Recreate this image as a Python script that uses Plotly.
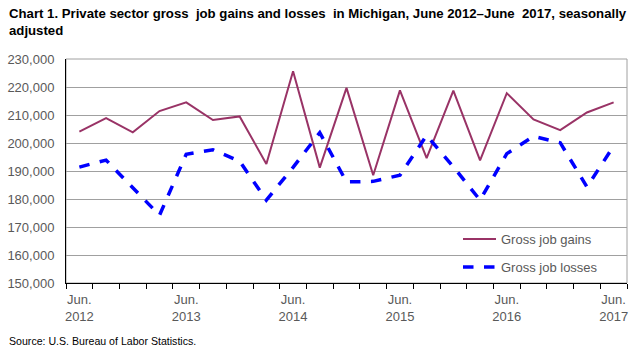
import plotly.graph_objects as go

quarters = list(range(21))
tick_pos = [0, 4, 8, 12, 16, 20]
tick_labels = ["Jun.<br>2012", "Jun.<br>2013", "Jun.<br>2014", "Jun.<br>2015", "Jun.<br>2016", "Jun.<br>2017"]

gains = [204100, 208900, 203800, 211400, 214500, 208200, 209500, 192500, 225600, 191200,
         219700, 188500, 218800, 194600, 218700, 193800, 217800, 208400, 204600, 210900, 214500]
losses = [191400, 193900, 184000, 174200, 196000, 197600, 193500, 179600, 191300, 203700,
          186100, 186300, 188500, 202700, 191500, 179600, 196200, 202400, 200100, 184300, 198900]

L, R, T, B = 66, 15, 58.5, 67
W, H = 642, 350
pw, ph = W - L - R, H - T - B


def px_x(x):
    return (x - L) / pw


def px_y(y):
    return (T + ph - y) / ph


fig = go.Figure()
fig.add_trace(go.Scatter(x=quarters, y=gains, mode="lines", name="Gross job gains",
                         line=dict(color="#993366", width=2), legend="legend"))
fig.add_trace(go.Scatter(x=quarters, y=losses, mode="lines", name="Gross job losses",
                         line=dict(color="#0000FF", width=3.5, dash="dash"), legend="legend2"))

fig.add_shape(type="rect", xref="paper", yref="paper", x0=0, x1=1, y0=0, y1=1,
              line=dict(color="#A0A0A0", width=1), layer="below")

leg_common = dict(xanchor="left", yanchor="middle", bgcolor="rgba(0,0,0,0)",
                  font=dict(size=13, color="#595959", family="Arial, Liberation Sans, sans-serif"),
                  itemwidth=33)

fig.update_layout(
    width=W, height=H,
    margin=dict(l=L, r=R, t=T, b=B, autoexpand=False),
    paper_bgcolor="white", plot_bgcolor="white",
    font=dict(family="Arial, Liberation Sans, sans-serif", size=13, color="#595959"),
    showlegend=True,
    legend=dict(x=px_x(458), y=px_y(239), **leg_common),
    legend2=dict(x=px_x(458), y=px_y(267), **leg_common),
    xaxis=dict(range=[-0.5, 20.5], tickvals=tick_pos, ticktext=tick_labels, ticks="",
               showgrid=False, zeroline=False, showline=True, linecolor="black", linewidth=1,
               tickfont=dict(size=13, color="#595959"), ticklabelstandoff=4, automargin=False,
               minor=dict(tickvals=[i - 0.5 for i in range(22)], ticks="outside", ticklen=5,
                          tickcolor="black", tickwidth=1, showgrid=False)),
    yaxis=dict(range=[150000, 230000], dtick=10000, tickformat=",", showgrid=True,
               gridcolor="#A0A0A0", gridwidth=1, zeroline=False, showline=True,
               linecolor="black", linewidth=1, ticks="", ticklabelstandoff=8, automargin=False,
               tickfont=dict(size=13, color="#595959")),
)

fig.add_annotation(text="<b>Chart 1. Private sector gross  job gains and losses  in Michigan, June 2012–June  2017, seasonally<br>adjusted</b>",
                   xref="paper", yref="paper", x=px_x(7), y=px_y(3), xanchor="left", yanchor="top",
                   align="left", showarrow=False,
                   font=dict(family="Liberation Sans Narrow, Arial Narrow, sans-serif", size=13.2, color="black"))

fig.add_annotation(text="Source: U.S. Bureau of Labor Statistics.", xref="paper", yref="paper",
                   x=px_x(7), y=px_y(341), xanchor="left", yanchor="middle",
                   showarrow=False, font=dict(size=10.6, color="black",
                                              family="Arial, Liberation Sans, sans-serif"))

fig.write_html("out.html")
